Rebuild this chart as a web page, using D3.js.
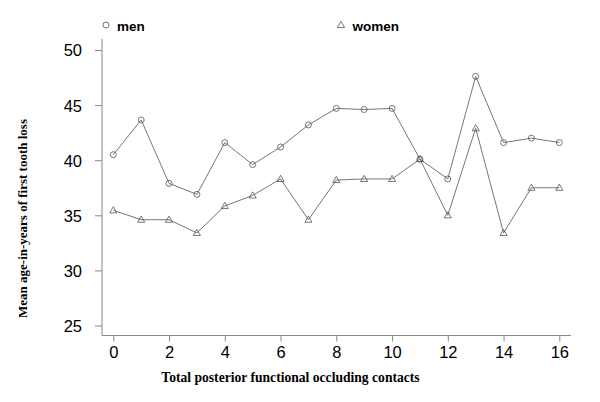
<!DOCTYPE html>
<html>
<head>
<meta charset="utf-8">
<script src="https://cdn.jsdelivr.net/npm/d3@7"></script>
<style>
  body { margin: 0; background: #fff; }
  svg { display: block; }
</style>
</head>
<body>
<svg width="600" height="402"></svg>
<script>
// data
const contacts = [0, 1, 2, 3, 4, 5, 6, 7, 8, 9, 10, 11, 12, 13, 14, 15, 16];
const men = [40.5, 43.65, 37.9, 36.9, 41.6, 39.6, 41.2, 43.2, 44.7, 44.6, 44.7, 40.1, 38.3, 47.6, 41.6, 42.0, 41.6];
const women = [35.45, 34.6, 34.6, 33.4, 35.85, 36.8, 38.3, 34.6, 38.2, 38.3, 38.3, 40.1, 35.0, 42.9, 33.4, 37.5, 37.5];
const xTicks = [0, 2, 4, 6, 8, 10, 12, 14, 16];
const yTicks = [25, 30, 35, 40, 45, 50];

const svg = d3.select("svg");
const axisColor = "#888";
const lineColor = "#666";

const x = d3.scaleLinear().domain([0, 16]).range([113.3, 559.3]);
const y = d3.scaleLinear().domain([25, 50]).range([325.5, 50]);

// L-shaped frame
svg.append("path")
  .attr("d", "M102,39V335.5H571")
  .attr("fill", "none")
  .attr("stroke", axisColor)
  .attr("stroke-width", 1);

// y axis
const yAxis = svg.append("g")
  .attr("transform", "translate(102,0)")
  .call(d3.axisLeft(y).tickValues(yTicks).tickSize(7).tickPadding(13).tickSizeOuter(0));
yAxis.select(".domain").remove();
yAxis.selectAll("line").attr("stroke", axisColor);
yAxis.selectAll("text")
  .attr("font-family", "'Liberation Sans', Arial, sans-serif")
  .attr("font-size", 16.5)
  .attr("fill", "#000")
  .attr("dy", "0.36em");

// x axis
const xAxis = svg.append("g")
  .attr("transform", "translate(0,335.5)")
  .call(d3.axisBottom(x).tickValues(xTicks).tickSize(6).tickPadding(5).tickSizeOuter(0));
xAxis.select(".domain").remove();
xAxis.selectAll("line").attr("stroke", axisColor);
xAxis.selectAll("text")
  .attr("font-family", "'Liberation Sans', Arial, sans-serif")
  .attr("font-size", 16.5)
  .attr("fill", "#000");

// axis titles
svg.append("text")
  .attr("transform", "translate(27,218.5) rotate(-90)")
  .attr("text-anchor", "middle")
  .attr("font-family", "'Liberation Serif', 'Times New Roman', serif")
  .attr("font-weight", "bold")
  .attr("font-size", 13)
  .text("Mean age-in-years of first tooth loss");

svg.append("text")
  .attr("x", 290.5)
  .attr("y", 382)
  .attr("text-anchor", "middle")
  .attr("font-family", "'Liberation Serif', 'Times New Roman', serif")
  .attr("font-weight", "bold")
  .attr("font-size", 13.6)
  .text("Total posterior functional occluding contacts");

// series lines
const line = (vals) => d3.line()
  .x((d, i) => x(contacts[i]))
  .y(d => y(d))(vals);

svg.append("path").attr("d", line(men))
  .attr("fill", "none").attr("stroke", lineColor).attr("stroke-width", 0.9);
svg.append("path").attr("d", line(women))
  .attr("fill", "none").attr("stroke", lineColor).attr("stroke-width", 0.9);

// markers
svg.append("g").selectAll("circle")
  .data(men)
  .join("circle")
  .attr("cx", (d, i) => x(contacts[i]))
  .attr("cy", d => y(d))
  .attr("r", 3)
  .attr("fill", "none")
  .attr("stroke", "#555")
  .attr("stroke-width", 0.8);

const tri = d3.symbol().type(d3.symbolTriangle).size(22);
svg.append("g").selectAll("path")
  .data(women)
  .join("path")
  .attr("d", tri)
  .attr("transform", (d, i) => "translate(" + x(contacts[i]) + "," + (y(d) + 0.5) + ")")
  .attr("fill", "none")
  .attr("stroke", "#555")
  .attr("stroke-width", 0.8);

// legend
svg.append("circle")
  .attr("cx", 106).attr("cy", 25).attr("r", 3)
  .attr("fill", "none").attr("stroke", "#555").attr("stroke-width", 0.8);
svg.append("text")
  .attr("x", 117).attr("y", 30.5)
  .attr("font-family", "'Liberation Sans', Arial, sans-serif")
  .attr("font-weight", "bold").attr("font-size", 13.5)
  .text("men");

svg.append("path")
  .attr("d", tri)
  .attr("transform", "translate(341,25.5)")
  .attr("fill", "none").attr("stroke", "#555").attr("stroke-width", 0.8);
svg.append("text")
  .attr("x", 352.5).attr("y", 30.5)
  .attr("font-family", "'Liberation Sans', Arial, sans-serif")
  .attr("font-weight", "bold").attr("font-size", 13.5)
  .text("women");
</script>
</body>
</html>
